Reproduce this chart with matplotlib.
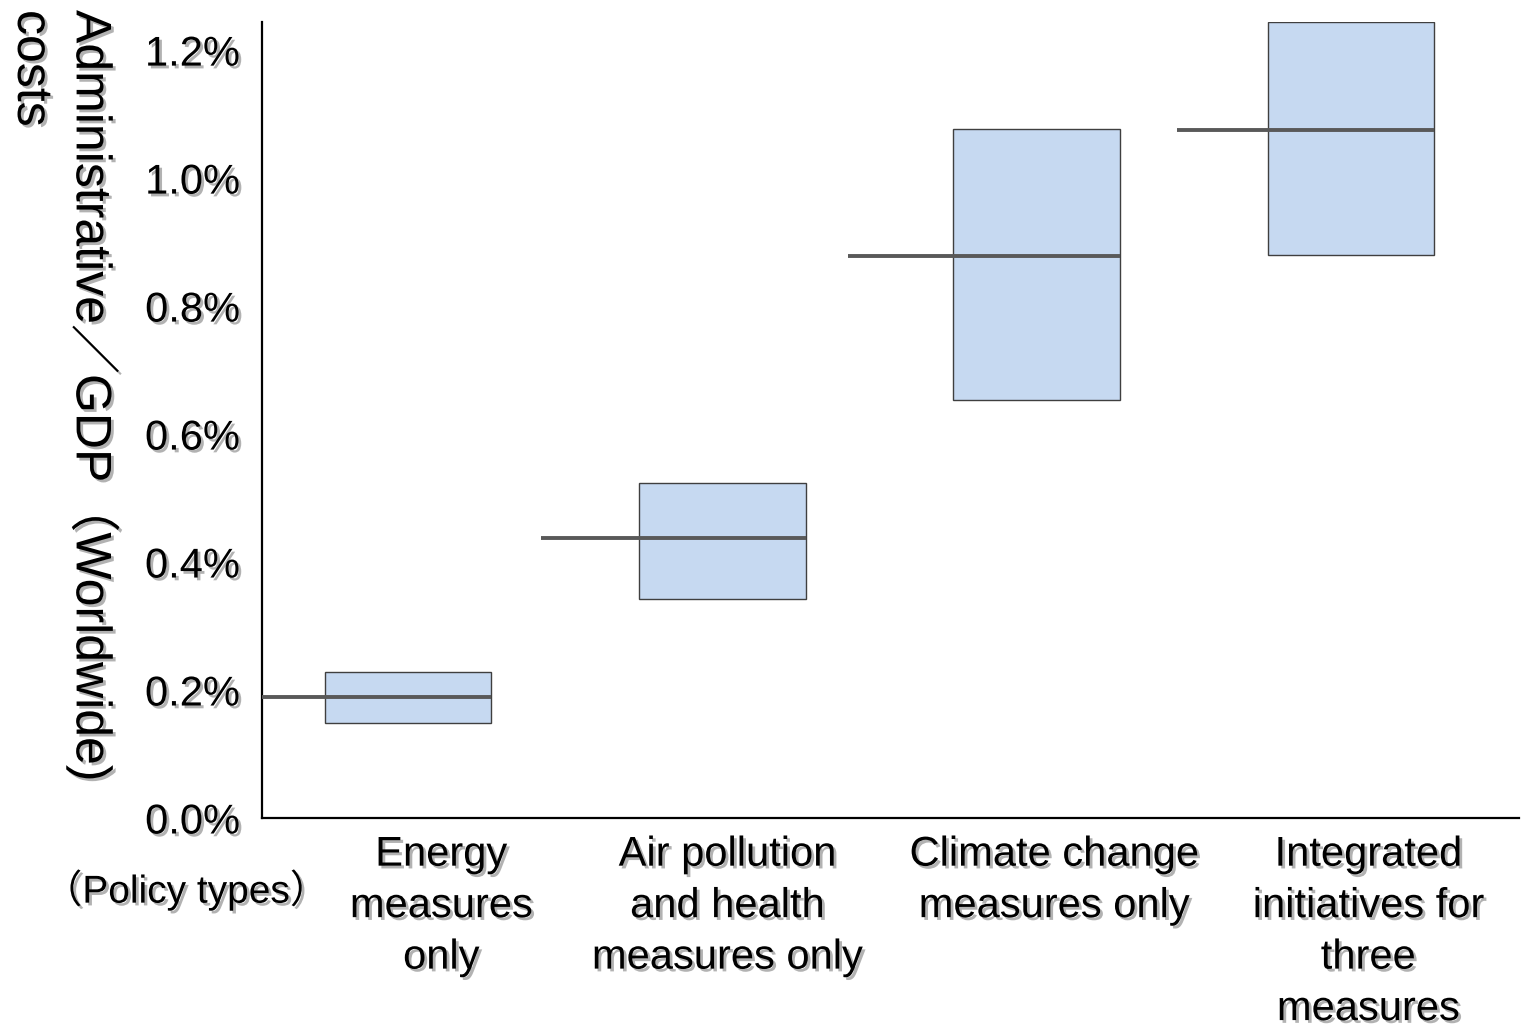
import matplotlib
matplotlib.use("Agg")
import matplotlib.pyplot as plt
import matplotlib.patheffects as pe
from matplotlib.patches import Rectangle

# data (% of GDP)
categories = ["Energy\nmeasures\nonly",
              "Air pollution\nand health\nmeasures only",
              "Climate change\nmeasures only",
              "Integrated\ninitiatives for\nthree\nmeasures"]
low = [0.148, 0.342, 0.653, 0.880]
high = [0.228, 0.523, 1.077, 1.244]
mid = [0.189, 0.4375, 0.878, 1.075]
mid_start = [0.0, 0.888, 1.865, 2.912]  # where the median line starts (category units)
yticks = [0.0, 0.2, 0.4, 0.6, 0.8, 1.0, 1.2]

fonts = ["Liberation Sans", "Noto Sans CJK JP", "DejaVu Sans"]
plt.rcParams["font.family"] = fonts
shadow = [pe.withSimplePatchShadow(offset=(2, -2), shadow_rgbFace="#808080", alpha=0.6)]

fig = plt.figure(figsize=(15.21, 10.27), dpi=100)
ax = fig.add_axes([0.1723, 0.2035, 0.8264, 0.7751])

box_off = 0.2
box_w = 0.53
for i in range(len(categories)):
    ax.add_patch(Rectangle((i + box_off, low[i]), box_w, high[i] - low[i],
                           facecolor="#C6D9F1", edgecolor="#3F3F3F", linewidth=1.0, zorder=2))
    ax.plot([mid_start[i], i + box_off + box_w], [mid[i], mid[i]],
            color="#595959", linewidth=2.8, solid_capstyle="butt", zorder=3)

ax.set_xlim(0, 4)
ax.set_ylim(0, 1.244)
ax.set_yticks(yticks)
ax.set_yticklabels([f"{v:.1f}%" for v in yticks], fontsize=30)
ax.tick_params(axis="y", length=0, pad=16)
label_x = [0.57, 1.48, 2.52, 3.52]
ax.set_xticks(label_x)
ax.set_xticklabels(categories, fontsize=30, linespacing=1.37)
ax.tick_params(axis="x", length=0, pad=12)
for t in ax.get_xticklabels() + ax.get_yticklabels():
    t.set_path_effects(shadow)

for s in ["top", "right"]:
    ax.spines[s].set_visible(False)
for s in ["left", "bottom"]:
    ax.spines[s].set_linewidth(1.6)
    ax.spines[s].set_color("black")

fig.text(8 / 1521, 1 - 10 / 1027, "Administrative／GDP（Worldwide)\ncosts",
         rotation=270, ha="left", va="top", fontsize=36, multialignment="left",
         linespacing=1.35, path_effects=shadow)
fig.text(186 / 1521, 1 - 890 / 1027, "（Policy types）", ha="center", va="center",
         fontsize=28, path_effects=shadow)

fig.savefig("out.png", dpi=100)
